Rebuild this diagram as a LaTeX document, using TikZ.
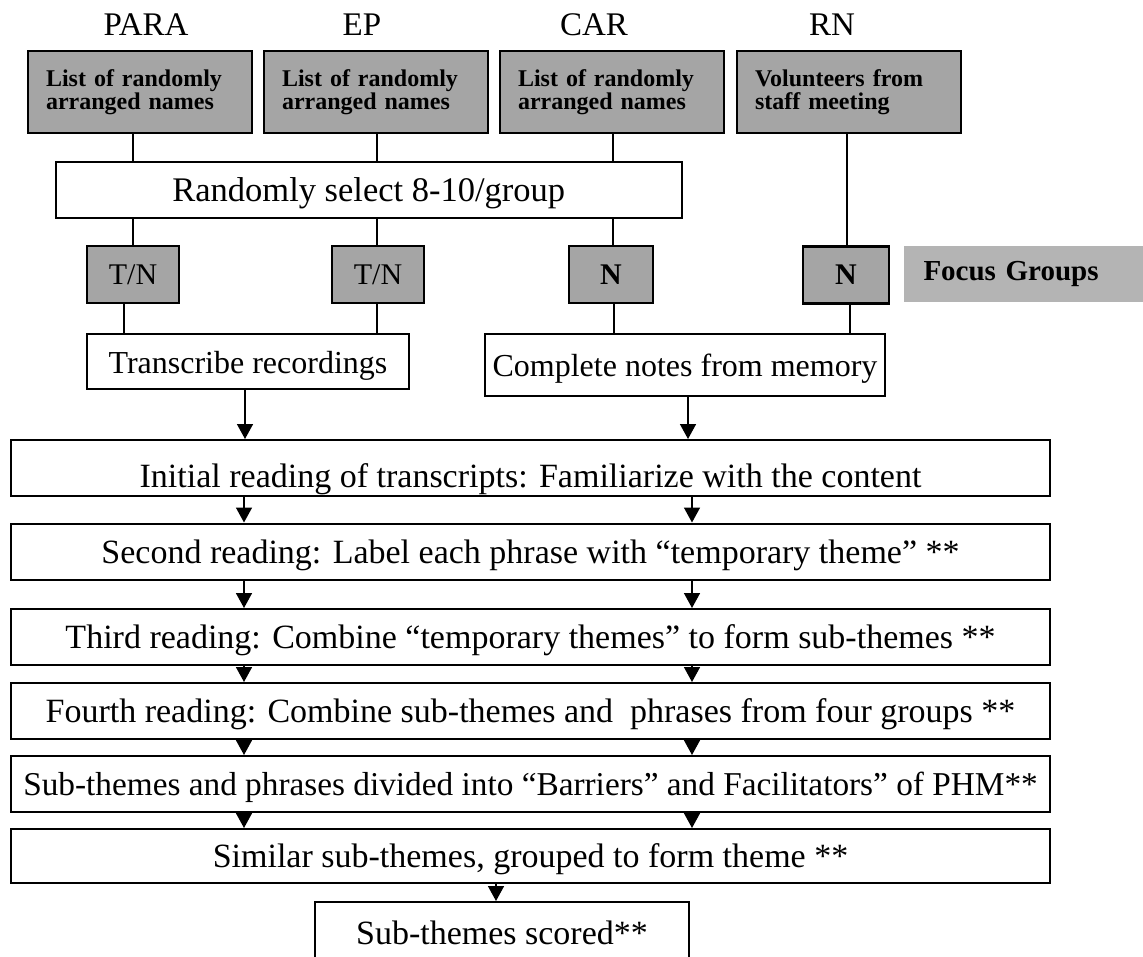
\documentclass[tikz,border=0pt]{standalone}
\usepackage{fontspec}
\setmainfont{Liberation Serif}
\usetikzlibrary{arrows.meta}
\definecolor{boxgray}{RGB}{165,165,165}
\definecolor{focusgray}{RGB}{180,180,180}
\begin{document}
\begin{tikzpicture}[x=1pt,y=-1pt,
  wbox/.style={draw=black, line width=2pt, rectangle, inner xsep=1pt, inner ysep=0pt, text height=23pt, text depth=0pt},
  gbox/.style={draw=black, line width=2.6pt, fill=boxgray, rectangle, inner xsep=18pt, inner ysep=0pt,
     text width=188pt, align=left, minimum height=82pt, font=\fontsize{24}{23}\selectfont\bfseries},
  smallg/.style={draw=black, line width=2.6pt, fill=boxgray, rectangle, inner sep=0pt, minimum height=57pt},
  lbl/.style={font=\fontsize{33}{38}\selectfont, anchor=base, inner sep=0pt},
  mid/.style={font=\fontsize{32}{38}\selectfont},
  stack/.style={wbox, font=\fontsize{34}{40}\selectfont, minimum width=1039pt, minimum height=56pt},
  conn/.style={line width=1.6pt},
  arr/.style={line width=1.6pt, -{Triangle[length=15pt,width=16pt]}}]
\useasboundingbox (0,0) rectangle (1143,956);

% column labels
\node[lbl] (lpara) at (146,35) {PARA};
\node[lbl] (lep) at (362,35) {EP};
\node[lbl] (lcar) at (594,35) {CAR};
\node[lbl] (lrn) at (832,35) {RN};

% top grey boxes
\node[gbox] (para) at (140,92) {List of randomly\\arranged names};
\node[gbox] (ep) at (376,92) {List of randomly\\arranged names};
\node[gbox] (car) at (612,92) {List of randomly\\arranged names};
\node[gbox] (rn) at (849,92) {Volunteers from\\staff meeting};

% selection
\node[wbox, font=\fontsize{34.5}{40}\selectfont, minimum width=626.5pt, minimum height=56pt] (sel) at (368.75,190) {Randomly select 8-10/group};

% focus group boxes
\node[smallg, minimum width=92pt, font=\fontsize{30}{34}\selectfont] (tn1) at (133,274.5) {T/N};
\node[smallg, minimum width=92pt, font=\fontsize{30}{34}\selectfont] (tn2) at (378,274.5) {T/N};
\node[smallg, minimum width=84pt, font=\fontsize{30}{34}\selectfont\bfseries] (n3) at (611,274.5) {N};
\node[smallg, minimum width=86pt, font=\fontsize{30}{34}\selectfont\bfseries] (n4) at (846,275) {N};
\node[fill=focusgray, rectangle, inner xsep=20pt, inner ysep=0pt, text width=199pt, align=left,
      minimum height=56pt, font=\fontsize{29}{34}\selectfont\bfseries] (focus) at (1023,274) {Focus Groups};

% transcription
\node[wbox, mid, minimum width=322pt, minimum height=55pt] (trans) at (248,361.5) {Transcribe recordings};
\node[wbox, mid, minimum width=400pt, minimum height=62pt] (compl) at (685,365) {Complete notes from memory};

% analysis stack
\node[stack, minimum height=56pt, text height=38pt] (init) at (530.5,468) {Initial reading of transcripts: Familiarize with the content};
\node[stack] (second) at (530.5,551.5) {Second reading: Label each phrase with “temporary theme” **};
\node[stack] (third) at (530.5,637) {Third reading: Combine “temporary themes” to form sub-themes **};
\node[stack] (fourth) at (530.5,711) {Fourth reading: Combine sub-themes and~ phrases from four groups **};
\node[stack, font=\fontsize{33.3}{40}\selectfont] (fifth) at (530.5,784) {Sub-themes and phrases divided into “Barriers” and Facilitators” of PHM**};
\node[stack, minimum height=54pt] (sixth) at (530.5,856) {Similar sub-themes, grouped to form theme **};
\node[wbox, font=\fontsize{34}{40}\selectfont, minimum width=374pt, minimum height=61pt] (last) at (502,932.5) {Sub-themes scored**};

% connectors
\draw[conn] (133,0 |- para.south) -- (133,0 |- sel.north);
\draw[conn] (377,0 |- ep.south) -- (377,0 |- sel.north);
\draw[conn] (613,0 |- car.south) -- (613,0 |- sel.north);
\draw[conn] (847,0 |- rn.south) -- (847,0 |- n4.north);
\draw[conn] (133,0 |- sel.south) -- (133,0 |- tn1.north);
\draw[conn] (377,0 |- sel.south) -- (377,0 |- tn2.north);
\draw[conn] (613,0 |- sel.south) -- (613,0 |- n3.north);
\draw[conn] (124,0 |- tn1.south) -- (124,0 |- trans.north);
\draw[conn] (377,0 |- tn2.south) -- (377,0 |- trans.north);
\draw[conn] (614,0 |- n3.south) -- (614,0 |- compl.north);
\draw[conn] (850,0 |- n4.south) -- (850,0 |- compl.north);

\draw[arr] (245,0 |- trans.south) -- (245,0 |- init.north);
\draw[arr] (688,0 |- compl.south) -- (688,0 |- init.north);
\draw[arr] (244,0 |- init.south) -- (244,0 |- second.north);
\draw[arr] (692,0 |- init.south) -- (692,0 |- second.north);
\draw[arr] (244,0 |- second.south) -- (244,0 |- third.north);
\draw[arr] (692,0 |- second.south) -- (692,0 |- third.north);
\draw[arr] (244,0 |- third.south) -- (244,0 |- fourth.north);
\draw[arr] (692,0 |- third.south) -- (692,0 |- fourth.north);
\draw[arr] (244,0 |- fourth.south) -- (244,0 |- fifth.north);
\draw[arr] (692,0 |- fourth.south) -- (692,0 |- fifth.north);
\draw[arr] (244,0 |- fifth.south) -- (244,0 |- sixth.north);
\draw[arr] (692,0 |- fifth.south) -- (692,0 |- sixth.north);
\draw[arr] (496,0 |- sixth.south) -- (496,0 |- last.north);
\end{tikzpicture}
\end{document}
